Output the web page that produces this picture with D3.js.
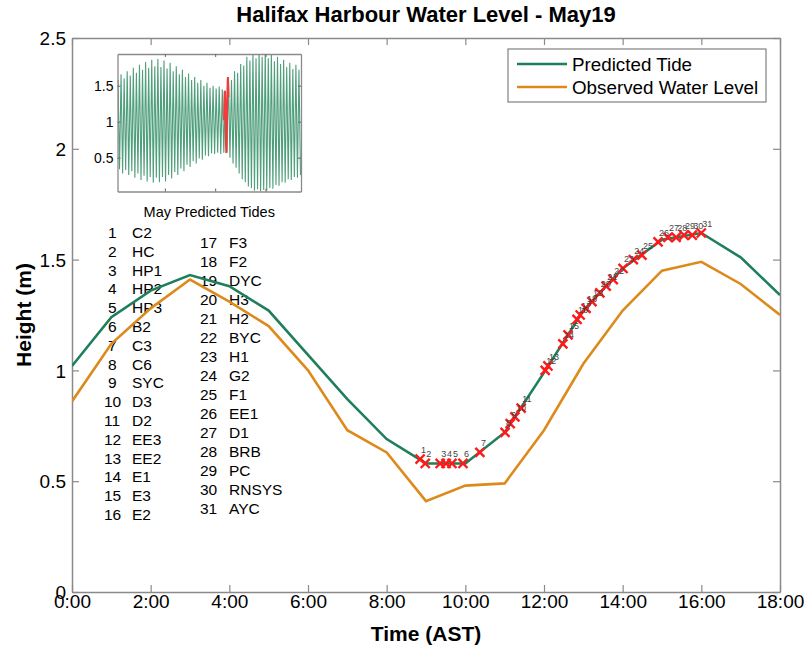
<!DOCTYPE html>
<html><head><meta charset="utf-8">
<script src="https://cdn.jsdelivr.net/npm/d3@7"></script>
<style>body{margin:0;background:#fff} text{font-family:"Liberation Sans",Arial,Helvetica,sans-serif}</style>
</head><body><svg id="c" width="804" height="655"></svg>
<script>
// ---------- data ----------
const hours = [0,1,2,3,4,5,6,7,8,9,10,11,12,13,14,15,16,17,18];
const predicted = [1.02,1.24,1.36,1.43,1.38,1.27,1.07,0.87,0.69,0.58,0.58,0.72,0.99,1.27,1.46,1.59,1.62,1.51,1.34];
const observed  = [0.86,1.12,1.28,1.41,1.31,1.20,1.00,0.73,0.63,0.41,0.48,0.49,0.73,1.03,1.27,1.45,1.49,1.39,1.25];
const xTickHours = [0,2,4,6,8,10,12,14,16,18];
const xTickLabels = ["0:00","2:00","4:00","6:00","8:00","10:00","12:00","14:00","16:00","18:00"];
const yTicks = [0,0.5,1,1.5,2,2.5];
const stationIds = [1,2,3,4,5,6,7,8,9,10,11,12,13,14,15,16,17,18,19,20,21,22,23,24,25,26,27,28,29,30,31];
const stationNames = ["C2","HC","HP1","HP2","HP3","B2","C3","C6","SYC","D3","D2","EE3","EE2","E1","E3","E2",
  "F3","F2","DYC","H3","H2","BYC","H1","G2","F1","EE1","D1","BRB","PC","RNSYS","AYC"];
const stationTimes = [8.85,8.98,9.36,9.51,9.66,9.94,10.37,11.01,11.14,11.26,11.42,12.03,12.10,12.48,12.61,12.84,12.92,13.07,13.22,13.42,13.58,13.76,14.01,14.27,14.49,14.90,15.15,15.36,15.56,15.77,16.00];
const stationHeights = [0.60,0.58,0.58,0.58,0.58,0.58,0.63,0.72,0.76,0.79,0.83,1.00,1.02,1.12,1.16,1.23,1.25,1.28,1.31,1.35,1.38,1.41,1.46,1.50,1.52,1.58,1.60,1.60,1.61,1.61,1.62];
// inset: May predicted tides, successive high / low waters
const insetHighs = [1.58,1.66,1.60,1.70,1.64,1.75,1.68,1.79,1.72,1.83,1.75,1.86,1.77,1.87,1.76,1.85,1.74,1.82,1.70,1.77,
  1.66,1.72,1.62,1.67,1.58,1.62,1.54,1.58,1.50,1.54,1.47,1.50,1.46,1.49,1.45,1.43,1.62,1.58,1.70,1.68,
  1.80,1.78,1.90,1.85,1.96,1.88,1.98,1.90,1.98,1.88,1.95,1.84,1.90,1.80,1.86,1.76,1.82,1.73,1.79,1.72];
const insetLows = [0.34,0.28,0.33,0.26,0.31,0.22,0.28,0.19,0.25,0.17,0.23,0.15,0.22,0.16,0.23,0.17,0.26,0.21,0.30,0.26,
  0.35,0.31,0.40,0.37,0.45,0.42,0.49,0.47,0.53,0.52,0.56,0.55,0.57,0.55,0.57,0.58,0.50,0.42,0.36,0.28,
  0.20,0.16,0.10,0.08,0.04,0.06,0.03,0.05,0.04,0.08,0.07,0.12,0.11,0.16,0.15,0.20,0.19,0.23,0.22,0.26];
const insetYTicks = [0.5,1,1.5];
const insetXTicks = [9,17.5,26];
const insetDayStart = 1, insetDayEnd = 32, mayDay = 19;

// ---------- layout ----------
const svg = d3.select("#c");
const L = 72, R = 780, T = 38, B = 592;
const x = d3.scaleLinear().domain([0,18]).range([L,R]);
const y = d3.scaleLinear().domain([0,2.5]).range([B,T]);
const green = "#1f7f5a", orange = "#dd8a1c", axisCol = "#8a8a8a";

svg.append("defs").append("clipPath").attr("id","pc").append("rect")
  .attr("x",L).attr("y",T).attr("width",R-L).attr("height",B-T);

// title
svg.append("text").attr("x",(L+R)/2).attr("y",22).attr("text-anchor","middle")
  .attr("font-size",22).attr("font-weight","bold").text("Halifax Harbour Water Level - May19");

// axes: bottom/top/left/right with inward ticks
const gx = svg.append("g").attr("transform",`translate(0,${B})`)
  .call(d3.axisBottom(x).tickValues(xTickHours).tickFormat((d,i)=>xTickLabels[i]).tickSizeInner(-7).tickSizeOuter(0).tickPadding(6));
const gxt = svg.append("g").attr("transform",`translate(0,${T})`)
  .call(d3.axisTop(x).tickValues(xTickHours).tickFormat("").tickSizeInner(-7).tickSizeOuter(0));
const gy = svg.append("g").attr("transform",`translate(${L},0)`)
  .call(d3.axisLeft(y).tickValues(yTicks).tickFormat(d3.format("~g")).tickSizeInner(-7).tickSizeOuter(0).tickPadding(6));
const gyr = svg.append("g").attr("transform",`translate(${R},0)`)
  .call(d3.axisRight(y).tickValues(yTicks).tickFormat("").tickSizeInner(-7).tickSizeOuter(0));
[gx,gxt,gy,gyr].forEach(g=>{
  g.select(".domain").attr("stroke",axisCol).attr("stroke-width",1.5);
  g.selectAll(".tick line").attr("stroke",axisCol).attr("stroke-width",1.2);
  g.selectAll(".tick text").attr("font-size",19).attr("fill","#000").attr("font-family",'"Liberation Sans",Arial,sans-serif');
});
gx.selectAll(".tick text").attr("dy","0.55em");
gy.selectAll(".tick text").attr("dy","0.35em");

// axis labels
svg.append("text").attr("x",(L+R)/2).attr("y",641).attr("text-anchor","middle")
  .attr("font-size",21).attr("font-weight","bold").text("Time (AST)");
svg.append("text").attr("transform",`translate(31,${(T+B)/2}) rotate(-90)`).attr("text-anchor","middle")
  .attr("font-size",21).attr("font-weight","bold").text("Height (m)");

// station list
const list = svg.append("g").attr("font-size",15.5).attr("fill","#000");
stationIds.forEach((id,i)=>{
  const col = i<16 ? 0 : 1;
  const row = col===0 ? i : i-16;
  const yy = col===0 ? 238 + row*18.8 : 248 + row*19.0;
  const nx = col===0 ? (id<10?108:104) : 200;
  const tx = col===0 ? 132 : 229;
  list.append("text").attr("x",nx).attr("y",yy).text(id);
  list.append("text").attr("x",tx).attr("y",yy).text(stationNames[i]);
});

// lines
const line = d3.line().x((d,i)=>x(hours[i])).y(d=>y(d));
const plot = svg.append("g").attr("clip-path","url(#pc)");
plot.append("path").datum(observed).attr("d",line).attr("fill","none").attr("stroke",orange).attr("stroke-width",2.6);
plot.append("path").datum(predicted).attr("d",line).attr("fill","none").attr("stroke",green).attr("stroke-width",2.6);

// station markers
const sym = d3.symbol().type(d3.symbolX).size(55);
const mk = svg.append("g");
stationIds.forEach((id,i)=>{
  mk.append("path").attr("d",sym()).attr("transform",`translate(${x(stationTimes[i])},${y(stationHeights[i])})`)
    .attr("fill","none").attr("stroke","#ff1a1a").attr("stroke-width",2.4);
});
stationIds.forEach((id,i)=>{
  mk.append("text").attr("x",x(stationTimes[i])+1).attr("y",y(stationHeights[i])-6)
    .attr("font-size",9).attr("fill","#444").text(id);
});

// legend
const lg = svg.append("g");
lg.append("rect").attr("x",508).attr("y",49).attr("width",258).attr("height",53)
  .attr("fill","#fff").attr("stroke",axisCol).attr("stroke-width",1.3);
[["Predicted Tide",green,64],["Observed Water Level",orange,87]].forEach(([t,c,yy])=>{
  lg.append("line").attr("x1",517).attr("x2",567).attr("y1",yy).attr("y2",yy).attr("stroke",c).attr("stroke-width",2.6);
  lg.append("text").attr("x",572).attr("y",yy+6.5).attr("font-size",18.8).text(t);
});

// inset
const iL = 117.5, iR = 301, iT = 54, iB = 191.5;
const ix = d3.scaleLinear().domain([insetDayStart,insetDayEnd]).range([iL,iR]);
const iy = d3.scaleLinear().domain([0.03,1.94]).range([iB,iT]);
const seq = [];
insetHighs.forEach((h,i)=>{ seq.push(h); seq.push(insetLows[i]); });
const ip = d3.scalePoint().domain(d3.range(seq.length)).range([ix(insetDayStart)+0.5, ix(insetDayEnd)-0.5]);
svg.append("defs").append("clipPath").attr("id","ic").append("rect")
  .attr("x",iL).attr("y",iT).attr("width",iR-iL).attr("height",iB-iT);
const ig = svg.append("g");
ig.append("rect").attr("x",iL).attr("y",iT).attr("width",iR-iL).attr("height",iB-iT).attr("fill","#fff");
const ic = ig.append("g").attr("clip-path","url(#ic)");
ic.append("path").datum(seq).attr("d",d3.line().x((d,i)=>ip(i)).y(d=>iy(d)))
  .attr("fill","none").attr("stroke","#4f9e7c").attr("stroke-width",1.1);
ic.append("path").datum(predicted).attr("d",d3.line().x((d,i)=>ix(mayDay + hours[i]/24)).y(d=>iy(d)))
  .attr("fill","none").attr("stroke","#f03c3c").attr("stroke-width",2);
const iax = [
  ig.append("g").attr("transform",`translate(0,${iB})`).call(d3.axisBottom(ix).tickValues(insetXTicks).tickFormat("").tickSizeInner(-3).tickSizeOuter(0)),
  ig.append("g").attr("transform",`translate(0,${iT})`).call(d3.axisTop(ix).tickValues(insetXTicks).tickFormat("").tickSizeInner(-3).tickSizeOuter(0)),
  ig.append("g").attr("transform",`translate(${iL},0)`).call(d3.axisLeft(iy).tickValues(insetYTicks).tickFormat(d3.format("~g")).tickSizeInner(-3).tickSizeOuter(0).tickPadding(4)),
  ig.append("g").attr("transform",`translate(${iR},0)`).call(d3.axisRight(iy).tickValues(insetYTicks).tickFormat("").tickSizeInner(-3).tickSizeOuter(0))
];
iax.forEach(g=>{
  g.select(".domain").attr("stroke",axisCol).attr("stroke-width",1.3);
  g.selectAll(".tick line").attr("stroke","#666");
  g.selectAll(".tick text").attr("font-size",14).attr("fill","#000").attr("font-family",'"Liberation Sans",Arial,sans-serif');
});
svg.append("text").attr("x",(iL+iR)/2).attr("y",217).attr("text-anchor","middle")
  .attr("font-size",14.5).text("May Predicted Tides");
</script></body></html>
